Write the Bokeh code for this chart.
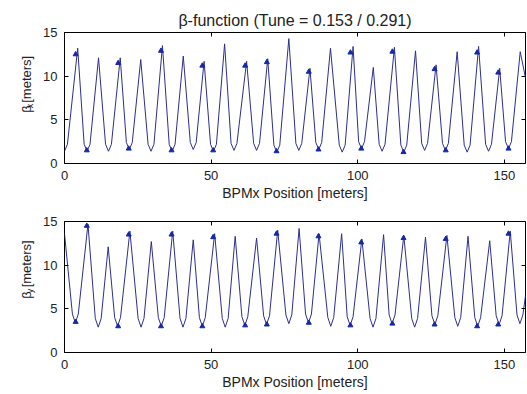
from bokeh.plotting import figure
from bokeh.layouts import column, row
from bokeh.models import Range1d, LinearAxis, FixedTicker
from bokeh.core.properties import value
from bokeh.embed import file_html
from bokeh.resources import INLINE

TITLE = "β-function (Tune = 0.153 / 0.291)"
XLABEL = "BPMx Position [meters]"
X_TICKS = [0, 50, 100, 150]
Y_TICKS = [0, 5, 10, 15]
X_MAX = 157.2

# horizontal beta function along the ring
s_x = [0.0, 1.0, 4.5, 6.7, 7.7, 8.7, 11.6, 14.0, 15.0, 16.0, 19.0, 21.1, 22.1, 23.1,
       26.0, 28.5, 29.5, 30.5, 33.4, 35.7, 36.7, 37.7, 40.5, 42.9, 43.9, 44.9,
       47.6, 49.8, 50.8, 51.8, 54.6, 56.8, 57.8, 58.8, 62.1, 64.5, 65.5, 66.5,
       69.3, 71.4, 72.4, 73.4, 76.5, 78.9, 79.9, 80.9, 83.7, 85.7, 86.7, 87.7,
       90.7, 93.7, 94.7, 95.7, 98.4, 100.3, 101.3, 102.3, 105.3, 107.3, 108.3, 109.3,
       112.5, 114.7, 115.7, 116.7, 119.7, 121.8, 122.8, 123.8, 126.7, 128.9, 129.9, 130.9,
       133.9, 136.3, 137.3, 138.3, 141.2, 143.6, 144.6, 145.6, 148.4, 150.4, 151.4, 152.4,
       155.4, 157.2]
beta_x = [1.4, 2.2, 13.2, 2.2, 1.4, 2.2, 12.1, 2.2, 1.4, 2.2, 12.1, 2.4, 1.6, 2.4,
          11.9, 2.2, 1.4, 2.2, 13.5, 2.2, 1.4, 2.2, 12.3, 2.4, 1.6, 2.4,
          11.7, 2.2, 1.4, 2.2, 13.7, 2.3, 1.5, 2.3, 11.7, 2.3, 1.5, 2.3,
          12.0, 2.1, 1.3, 2.1, 14.3, 2.3, 1.5, 2.3, 10.9, 2.4, 1.6, 2.4,
          13.2, 2.1, 1.3, 2.1, 13.4, 2.5, 1.7, 2.5, 11.0, 2.2, 1.4, 2.2,
          13.3, 2.1, 1.3, 2.1, 12.9, 2.3, 1.5, 2.3, 11.3, 2.3, 1.5, 2.3,
          12.8, 2.1, 1.3, 2.1, 13.4, 2.2, 1.4, 2.2, 10.9, 2.5, 1.7, 2.5,
          12.8, 9.8]

# vertical beta function along the ring
s_y = [0.0, 2.7, 3.7, 4.7, 8.0, 10.5, 11.5, 12.5, 14.9, 17.1, 18.1, 19.1, 22.3,
       25.1, 26.1, 27.1, 29.6, 32.0, 33.0, 34.0, 36.9, 39.4, 40.4, 41.4, 43.9,
       46.0, 47.0, 48.0, 51.2, 53.8, 54.8, 55.8, 58.2, 60.5, 61.5, 62.5, 65.5,
       67.9, 68.9, 69.9, 72.7, 75.5, 76.5, 77.5, 80.0, 82.2, 83.2, 84.2, 86.8,
       89.8, 90.8, 91.8, 94.5, 96.4, 97.4, 98.4, 101.4, 104.2, 105.2, 106.2, 108.8,
       110.7, 111.7, 112.7, 115.7, 118.4, 119.4, 120.4, 123.1, 125.3, 126.3, 127.3, 130.4,
       133.1, 134.1, 135.1, 137.6, 139.9, 140.9, 141.9, 145.0, 147.2, 148.2, 149.2, 152.0,
       154.3, 155.3, 156.3, 157.2]
beta_y = [13.6, 4.4, 3.4, 4.4, 14.7, 3.9, 2.9, 3.9, 12.1, 4.0, 3.0, 4.0, 13.9,
          3.9, 2.9, 3.9, 12.7, 4.0, 3.0, 4.0, 13.9, 3.9, 2.9, 3.9, 12.9,
          4.0, 3.0, 4.0, 13.6, 3.9, 2.9, 3.9, 13.3, 4.1, 3.1, 4.1, 13.1,
          4.2, 3.2, 4.2, 14.0, 4.3, 3.3, 4.3, 14.2, 4.4, 3.4, 4.4, 13.6,
          4.0, 3.0, 4.0, 13.6, 4.1, 3.1, 4.1, 13.0, 3.9, 2.9, 3.9, 13.5,
          4.3, 3.3, 4.3, 13.4, 3.9, 2.9, 3.9, 13.2, 4.2, 3.2, 4.2, 13.4,
          4.0, 3.0, 4.0, 13.3, 4.0, 3.0, 4.0, 12.8, 4.2, 3.2, 4.2, 13.9,
          4.3, 3.3, 4.3, 6.5]

# BPM positions and measured beta values
bpm_s = [3.8, 7.6, 18.3, 21.9, 32.9, 36.5, 47.0, 50.7, 61.6, 69.0, 72.3,
         83.3, 86.6, 97.5, 101.2, 111.8, 115.6, 126.2, 130.0, 140.7, 147.9, 151.4]
bpm_beta_x = [12.5, 1.5, 11.5, 1.7, 12.9, 1.5, 11.2, 1.5, 11.2, 11.6, 1.4,
              10.5, 1.6, 12.7, 1.7, 12.8, 1.3, 10.8, 1.5, 12.7, 10.4, 1.7]
bpm_beta_y = [3.5, 14.5, 3.0, 13.5, 3.0, 13.5, 3.0, 13.2, 3.1, 3.2, 13.6,
              3.4, 13.3, 3.1, 12.6, 3.3, 13.1, 3.2, 13.0, 3.0, 3.2, 13.6]

FONT = "Liberation Sans"
LINE_COLOR = "#2e2e8e"
MARK_COLOR = "#1428a8"
TEXT_COLOR = "#222222"
LABEL_W = 40


def make_fig(height, border_top, border_bottom, s, beta, bpm_beta, title=None):
    p = figure(width=527 - LABEL_W, height=height, output_backend="svg",
               toolbar_location=None,
               x_range=Range1d(0, X_MAX), y_range=Range1d(0, 15),
               min_border_left=64 - LABEL_W, min_border_right=2,
               min_border_top=border_top, min_border_bottom=border_bottom)
    p.background_fill_color = "white"
    p.border_fill_color = "white"
    p.outline_line_color = "black"
    p.outline_line_width = 1
    p.xgrid.visible = False
    p.ygrid.visible = False
    if title:
        p.title.text = title
        p.title.align = "center"
        p.title.text_font = FONT
        p.title.text_font_size = "16px"
        p.title.text_font_style = "normal"
        p.title.text_color = TEXT_COLOR
        p.title.standoff = 7

    for ax in (p.xaxis[0], p.yaxis[0]):
        ax.axis_line_color = None
        ax.major_tick_in = 4
        ax.major_tick_out = 0
        ax.minor_tick_line_color = None
        ax.major_tick_line_color = "black"
        ax.major_label_text_font = FONT
        ax.major_label_text_font_size = "13px"
        ax.major_label_text_color = TEXT_COLOR
    p.xaxis[0].ticker = FixedTicker(ticks=X_TICKS)
    p.yaxis[0].ticker = FixedTicker(ticks=Y_TICKS)
    p.xaxis[0].major_label_standoff = 7
    p.yaxis[0].major_label_standoff = 7
    p.xaxis[0].axis_label = XLABEL
    p.xaxis[0].axis_label_text_font = FONT
    p.xaxis[0].axis_label_text_font_size = "14px"
    p.xaxis[0].axis_label_text_font_style = "normal"
    p.xaxis[0].axis_label_text_color = TEXT_COLOR
    p.xaxis[0].axis_label_standoff = 2

    for loc, ticks in (("right", Y_TICKS), ("above", X_TICKS)):
        ax = LinearAxis(ticker=FixedTicker(ticks=ticks), axis_line_color=None,
                        major_tick_in=4, major_tick_out=0,
                        minor_tick_line_color=None,
                        major_label_text_font_size="1px",
                        major_label_text_color=None, major_label_standoff=0)
        p.add_layout(ax, loc)

    p.line(s, beta, line_color=LINE_COLOR, line_width=1.0)
    p.scatter(bpm_s, bpm_beta, marker="triangle", size=5,
              fill_color=MARK_COLOR, line_color=MARK_COLOR)
    return p


def make_ylabel(height, border_bottom, sub):
    # narrow strip left of the plot holding the rotated label  β_sub [meters]
    q = figure(width=LABEL_W, height=height, output_backend="svg", toolbar_location=None,
               x_range=Range1d(0, LABEL_W), y_range=Range1d(0, height),
               x_axis_type=None, y_axis_type=None, min_border=0)
    q.outline_line_color = None
    q.background_fill_color = "white"
    q.border_fill_color = "white"
    q.xgrid.visible = False
    q.ygrid.visible = False
    common = dict(angle=1.5708, text_font=value(FONT), text_color=TEXT_COLOR,
                  text_baseline="alphabetic", text_align="left")
    q.text(x=[26], y=[border_bottom + 36], text=["β"], text_font_size=value("13px"), **common)
    q.text(x=[29], y=[border_bottom + 43.5], text=[sub], text_font_size=value("9px"), **common)
    q.text(x=[26], y=[border_bottom + 52], text=["[meters]"], text_font_size=value("13px"), **common)
    return q


p1 = make_fig(207, 32, 44, s_x, beta_x, bpm_beta_x, TITLE)
p2 = make_fig(185, 14, 40, s_y, beta_y, bpm_beta_y)
l1 = make_ylabel(207, 44, "x")
l2 = make_ylabel(185, 40, "y")

layout = column(row(l1, p1, spacing=0), row(l2, p2, spacing=0), spacing=0)
open("out.html", "w").write(file_html(layout, INLINE))
